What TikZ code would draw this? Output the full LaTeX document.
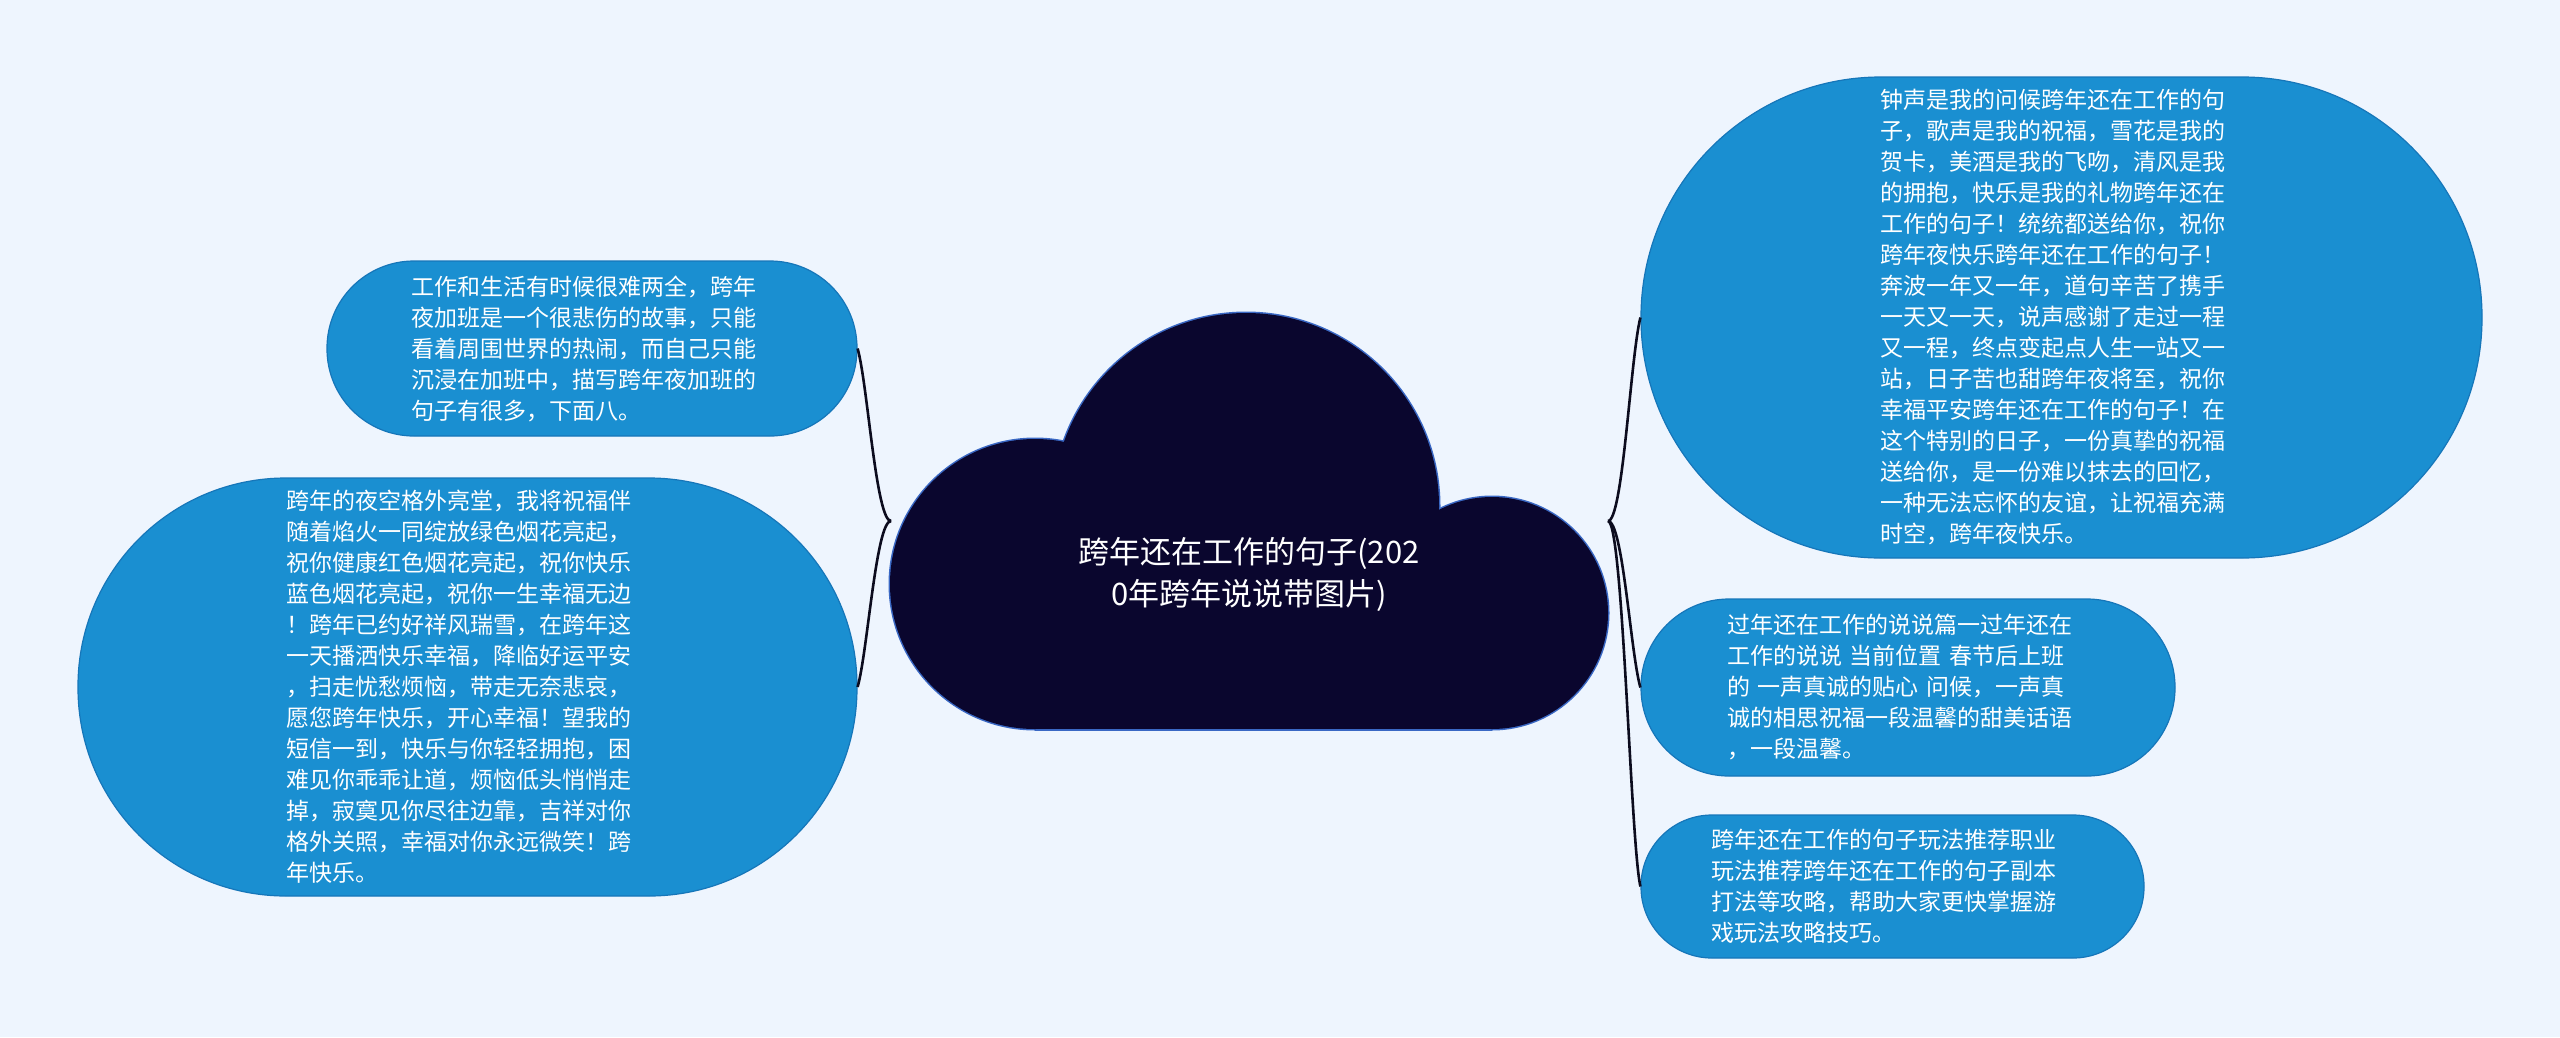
\documentclass[tikz,border=0pt]{standalone}
\usepackage{fontspec}
\setmainfont{Noto Sans CJK SC}
\usepackage{tikz}
\usepackage{xcolor}

\definecolor{paper}{RGB}{238,245,254}
\definecolor{nodefill}{RGB}{26,143,209}
\definecolor{nodeedge}{RGB}{22,118,185}
\definecolor{cloudfill}{RGB}{10,6,46}
\definecolor{cloudedge}{RGB}{58,104,196}
\definecolor{linkcol}{RGB}{12,12,30}

\begin{document}
\begin{tikzpicture}[x=1pt,y=-1pt,
  subtopic/.style={draw=nodeedge, line width=1.2pt, fill=nodefill, text=white,
    align=left, text width=362pt, inner sep=0pt,
    font=\fontsize{23}{31}\selectfont},
  topic/.style={text=white, align=center, inner sep=0pt,
    font=\fontsize{31}{42}\selectfont},
  link/.style={draw=linkcol, line width=2.6pt}]

  % background and page size
  \fill[paper] (0,0) rectangle (2560,1037);
  \useasboundingbox (0,0) rectangle (2560,1037);

  % cloud: outline first, body on top
  \foreach \cx/\cy/\r in {1035/584/145, 1246/506/193, 1492/613/116}{
    \fill[cloudedge] (\cx,\cy) circle[radius=\r+1.5];
  }
  \fill[cloudedge] (1035,530) rectangle (1492,730.5);
  \foreach \cx/\cy/\r in {1035/584/145, 1246/506/193, 1492/613/116}{
    \fill[cloudfill] (\cx,\cy) circle[radius=\r];
  }
  \fill[cloudfill] (1035,530) rectangle (1492,729);

  \node[topic] (root) at (1249,574) {跨年还在工作的句子(202\\0年跨年说说带图片)};
  \coordinate (rootL) at (891,521);
  \coordinate (rootR) at (1608,521);

  % left side
  \node[subtopic, minimum width=530pt, minimum height=175pt, rounded corners=87pt]
    (work) at (592,348.5) {工作和生活有时候很难两全，跨年\\
    夜加班是一个很悲伤的故事，只能\\
    看着周围世界的热闹，而自己只能\\
    沉浸在加班中，描写跨年夜加班的\\
    句子有很多，下面八。};

  \node[subtopic, minimum width=779pt, minimum height=418pt, rounded corners=208pt]
    (sky) at (467.5,687) {跨年的夜空格外亮堂，我将祝福伴\\
    随着焰火一同绽放绿色烟花亮起，\\
    祝你健康红色烟花亮起，祝你快乐\\
    蓝色烟花亮起，祝你一生幸福无边\\
    ！跨年已约好祥风瑞雪，在跨年这\\
    一天播洒快乐幸福，降临好运平安\\
    ，扫走忧愁烦恼，带走无奈悲哀，\\
    愿您跨年快乐，开心幸福！望我的\\
    短信一到，快乐与你轻轻拥抱，困\\
    难见你乖乖让道，烦恼低头悄悄走\\
    掉，寂寞见你尽往边靠，吉祥对你\\
    格外关照，幸福对你永远微笑！跨\\
    年快乐。};

  % right side
  \node[subtopic, minimum width=841pt, minimum height=481pt, rounded corners=240pt]
    (bell) at (2061.5,317.5) {钟声是我的问候跨年还在工作的句\\
    子，歌声是我的祝福，雪花是我的\\
    贺卡，美酒是我的飞吻，清风是我\\
    的拥抱，快乐是我的礼物跨年还在\\
    工作的句子！统统都送给你，祝你\\
    跨年夜快乐跨年还在工作的句子！\\
    奔波一年又一年，道句辛苦了携手\\
    一天又一天，说声感谢了走过一程\\
    又一程，终点变起点人生一站又一\\
    站，日子苦也甜跨年夜将至，祝你\\
    幸福平安跨年还在工作的句子！在\\
    这个特别的日子，一份真挚的祝福\\
    送给你，是一份难以抹去的回忆，\\
    一种无法忘怀的友谊，让祝福充满\\
    时空，跨年夜快乐。};

  \node[subtopic, minimum width=534pt, minimum height=177pt, rounded corners=88pt]
    (posts) at (1908,687.5) {过年还在工作的说说篇一过年还在\\
    工作的说说 当前位置 春节后上班\\
    的 一声真诚的贴心 问候，一声真\\
    诚的相思祝福一段温馨的甜美话语\\
    ，一段温馨。};

  \node[subtopic, minimum width=503pt, minimum height=143pt, rounded corners=71pt]
    (guide) at (1892.5,886.5) {跨年还在工作的句子玩法推荐职业\\
    玩法推荐跨年还在工作的句子副本\\
    打法等攻略，帮助大家更快掌握游\\
    戏玩法攻略技巧。};

  % connectors
  \draw[link] (rootL) .. controls +(-15,0) and +(10,35) .. (work.east);
  \draw[link] (rootL) .. controls +(-15,0) and +(10,-35) .. (sky.east);
  \draw[link] (rootR) .. controls +(15,0) and +(-10,40) .. (bell.west);
  \draw[link] (rootR) .. controls +(15,0) and +(-10,-35) .. (posts.west);
  \draw[link] (rootR) .. controls +(15,0) and +(-10,-45) .. (guide.west);

\end{tikzpicture}
\end{document}
